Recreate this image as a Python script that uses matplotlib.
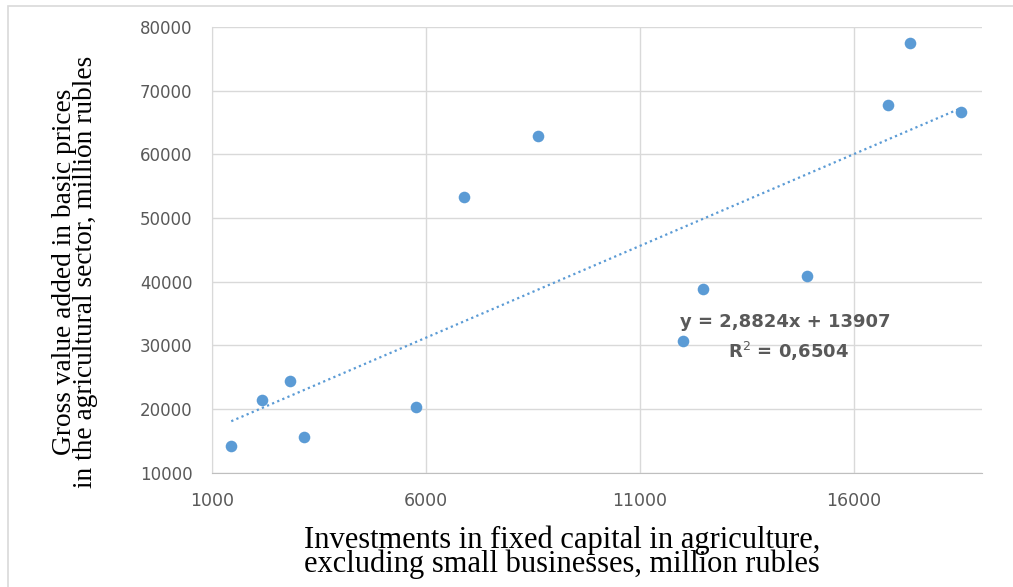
import matplotlib.pyplot as plt
import numpy as np
from matplotlib.patches import Rectangle

# investments (million rubles) vs gross value added (million rubles)
investments = [1450, 2180, 2830, 3160, 5760, 6900, 8620, 12000, 12470, 14900, 16800, 17310, 18500]
gross_value = [14250, 21450, 24450, 15650, 20250, 53350, 62950, 30700, 38850, 40900, 67750, 77500, 66600]

slope = 2.8824
intercept = 13907
r2_text = '0,6504'

x_ticks = [1000, 6000, 11000, 16000]
y_ticks = [10000, 20000, 30000, 40000, 50000, 60000, 70000, 80000]

blue = '#5B9BD5'
grey = '#595959'

fig = plt.figure(figsize=(10.13, 5.87), dpi=100)
fig.patches.append(Rectangle((0.008, -0.01), 1.1, 1.0, transform=fig.transFigure,
                             fill=False, edgecolor='#D9D9D9', linewidth=1.2))
ax = fig.add_axes([0.2093, 0.1947, 0.7601, 0.7593])

ax.scatter(investments, gross_value, s=70, color=blue, zorder=3, linewidths=0)

xs = np.array([min(investments), max(investments)])
ax.plot(xs, slope * xs + intercept, linestyle=(0, (1, 1.5)), color=blue,
        linewidth=1.6, zorder=2)

ax.set_xlim(1000, 19000)
ax.set_ylim(10000, 80000)
ax.set_xticks(x_ticks)
ax.set_yticks(y_ticks)
ax.grid(True, color='#D9D9D9', linewidth=1)
ax.set_axisbelow(True)
for s in ['top', 'right']:
    ax.spines[s].set_visible(False)
ax.spines['left'].set_color('#D9D9D9')
ax.spines['bottom'].set_color('#BFBFBF')
ax.tick_params(length=0)
ax.tick_params(axis='y', labelsize=12, labelcolor=grey, pad=14)
ax.tick_params(axis='x', labelsize=12.5, labelcolor=grey, pad=14)

ax.set_xlabel('Investments in fixed capital in agriculture,\nexcluding small businesses, million rubles',
              family='Liberation Serif', fontsize=22, linespacing=0.78,
              multialignment='center')
ax.set_ylabel('Gross value added in basic prices\nin the agricultural sector, million rubles',
              family='Liberation Serif', fontsize=19.7, linespacing=0.78,
              multialignment='center')
ax.xaxis.set_label_coords(0.455, -0.118)
ax.yaxis.set_label_coords(-0.148, 0.45)

ax.text(0.745, 0.338, 'y = 2,8824x + 13907', transform=ax.transAxes, ha='center',
        va='center', fontsize=13, fontweight='bold', color=grey)
ax.text(0.748, 0.273, 'R$^2$ = ' + r2_text, transform=ax.transAxes, ha='center',
        va='center', fontsize=13, fontweight='bold', color=grey)

fig.savefig('out.png', dpi=100)
